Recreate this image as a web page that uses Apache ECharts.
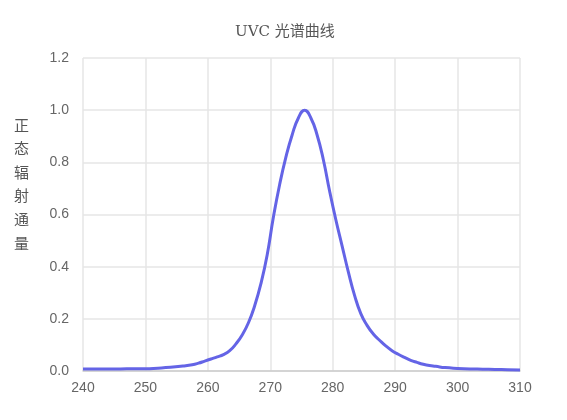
<!DOCTYPE html>
<html>
<head>
<meta charset="utf-8">
<script src="https://cdn.jsdelivr.net/npm/echarts@6/dist/echarts.min.js"></script>
<style>html,body{margin:0;padding:0;background:#fff}#c{width:567px;height:420px}</style>
</head>
<body>
<div id="c"></div>
<script>
var titleText = 'UVC 光谱曲线';
var yName = '正态辐射通量';
var wavelengths = [240,242,244,246,248,250,252,254,256,257.5,258.5,259.5,260.5,261.5,262.5,263.5,264.5,265.5,266.5,267.5,268.5,269.5,270.5,271.5,272.5,273.5,274.5,275.5,276.5,277.5,278.5,279.5,280.5,281.5,282.5,283.5,284.5,285.5,286.5,287.5,288.5,289.5,290.5,291.5,292.5,293.5,294.5,295.5,296.5,298,300,302,304,306,308,310];
var intensity   = [0.008,0.008,0.008,0.008,0.009,0.009,0.011,0.014,0.019,0.024,0.03,0.038,0.046,0.054,0.063,0.078,0.104,0.138,0.185,0.25,0.335,0.445,0.59,0.715,0.82,0.905,0.97,1.0,0.97,0.905,0.81,0.69,0.58,0.48,0.38,0.29,0.22,0.175,0.142,0.118,0.096,0.078,0.064,0.052,0.041,0.033,0.026,0.021,0.018,0.013,0.010,0.008,0.007,0.006,0.005,0.004];

var chart = echarts.init(document.getElementById('c'), null, {renderer:'canvas'});
var data = wavelengths.map(function(x,i){return [x,intensity[i]];});
chart.setOption({
  animation:false,
  title:{text:titleText,left:230,top:20,
    textStyle:{fontFamily:'"DejaVu Serif","Noto Sans CJK SC",serif',fontSize:15,fontWeight:'normal',color:'#555'}},
  grid:{left:83,right:47,top:58,bottom:49},
  graphic:[{type:'text',left:14,top:113,style:{text:yName.split('').join('\n'),lineHeight:23.6,
    font:'15px "Noto Sans CJK SC"',fill:'#555'}}],
  xAxis:{type:'value',min:240,max:310,interval:10,
    axisLine:{show:true,lineStyle:{color:'#ccc',width:1.5}},
    axisTick:{show:false},
    axisLabel:{margin:10,fontSize:14,color:'#666',fontFamily:'"Liberation Sans",Arial'},
    splitLine:{show:true,lineStyle:{color:'#e6e6e6',width:1.5}}},
  yAxis:{type:'value',min:0,max:1.2,interval:0.2,
    axisLine:{show:false},axisTick:{show:false},
    axisLabel:{margin:14,fontSize:14,color:'#666',fontFamily:'"Liberation Sans",Arial',
      formatter:function(v){return v.toFixed(1);}},
    splitLine:{show:true,lineStyle:{color:'#e6e6e6',width:1.5}}},
  series:[{type:'line',data:data,smooth:true,showSymbol:false,
    lineStyle:{color:'#6464e6',width:3}}]
});
</script>
</body>
</html>
